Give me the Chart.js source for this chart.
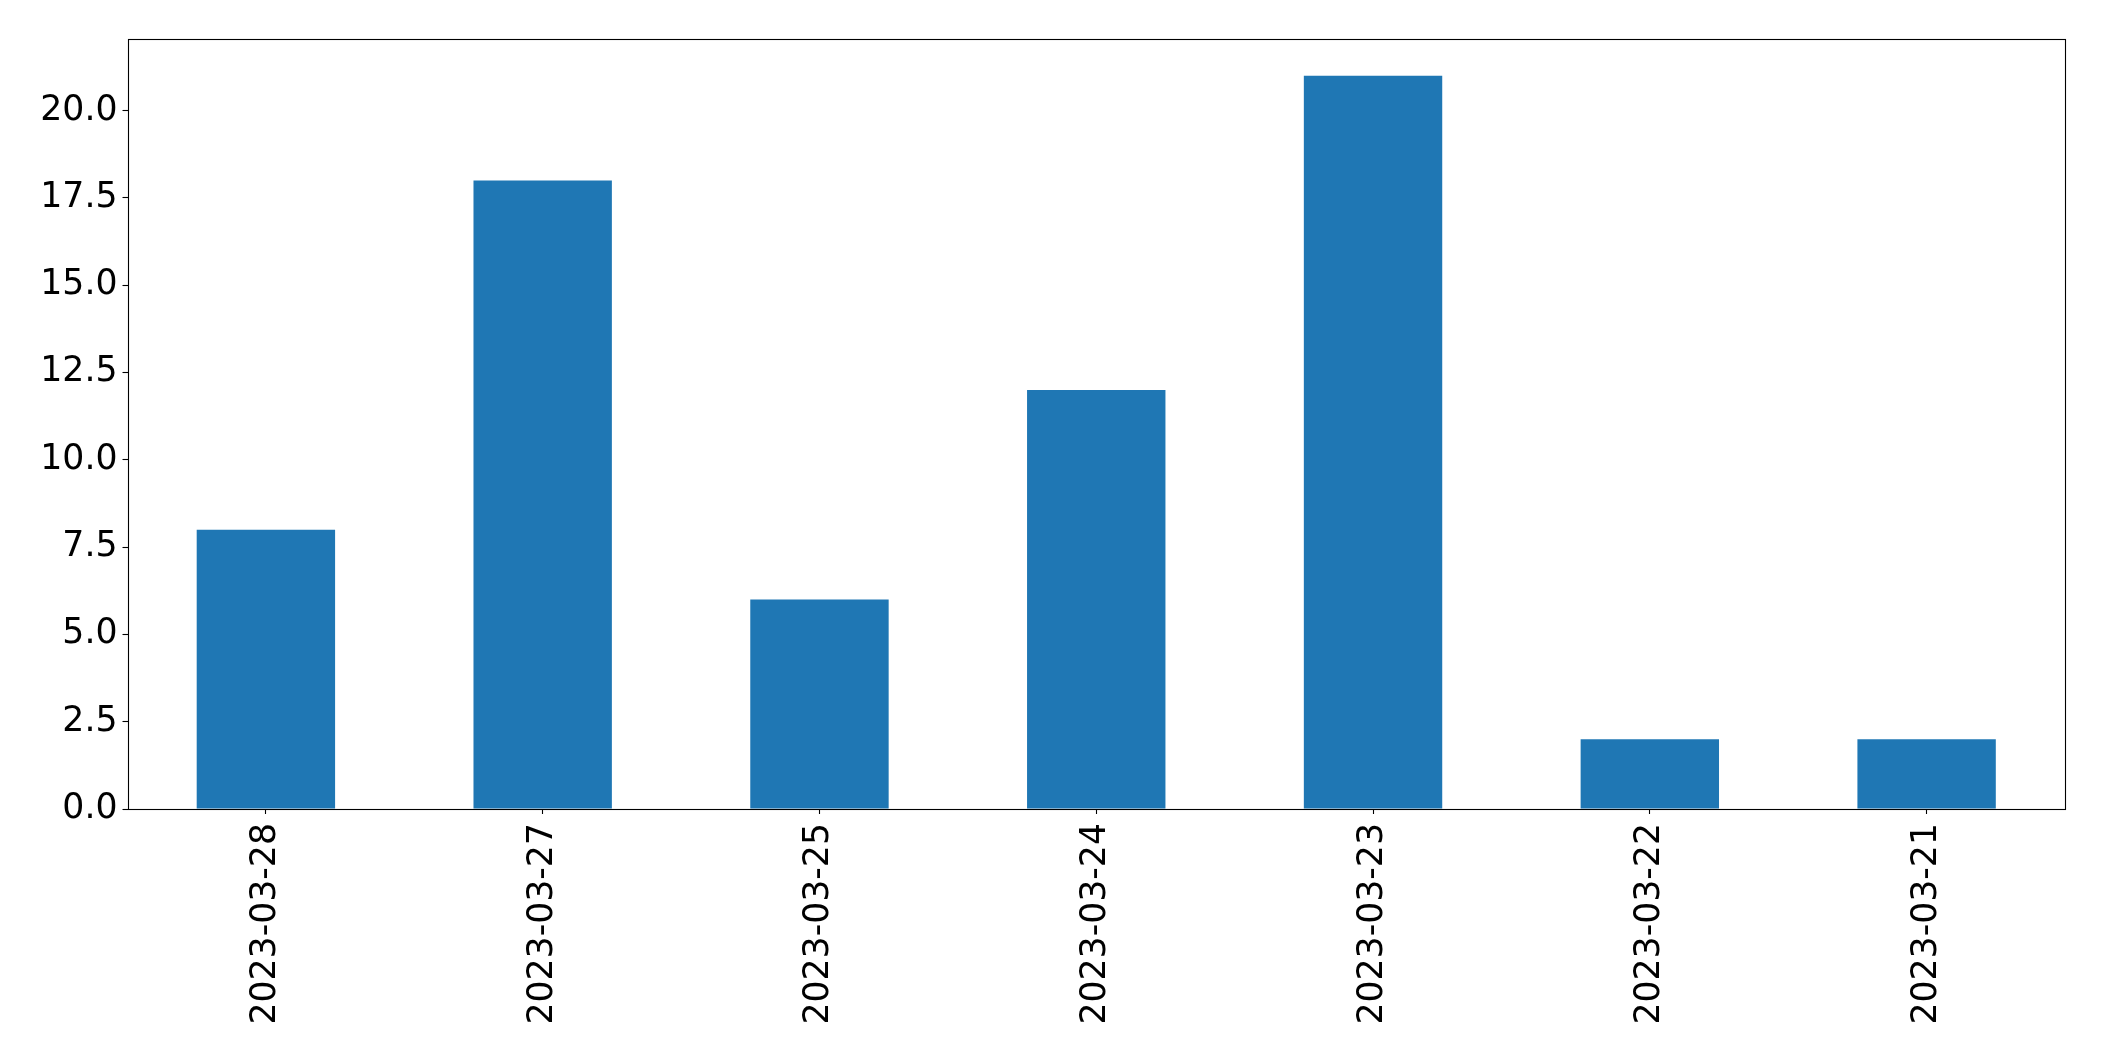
<!DOCTYPE html>
<html>
<head>
<meta charset="utf-8">
<script src="https://cdn.jsdelivr.net/npm/chart.js@4/dist/chart.umd.min.js"></script>
<style>
  html, body { margin: 0; padding: 0; background: #ffffff; }
  #wrap { width: 2104px; height: 1061px; position: relative; }
</style>
</head>
<body>
<div id="wrap"><canvas id="c" width="2104" height="1061"></canvas></div>
<script>
const categories = ["2023-03-28", "2023-03-27", "2023-03-25", "2023-03-24", "2023-03-23", "2023-03-22", "2023-03-21"];
const counts = [8, 18, 6, 12, 21, 2, 2];
const yTicks = [0, 2.5, 5, 7.5, 10, 12.5, 15, 17.5, 20];
const yMin = 0;
const yMax = 22.05;

const frame = {
  id: 'frame',
  afterDraw(chart) {
    const a = chart.chartArea;
    const ctx = chart.ctx;
    ctx.save();
    ctx.strokeStyle = '#000000';
    ctx.lineWidth = 1.1;
    ctx.strokeRect(Math.round(a.left) + 0.5, Math.round(a.top) + 0.5,
                   Math.round(a.right - a.left) - 1, Math.round(a.bottom - a.top));
    ctx.restore();
  }
};

const font = { family: '"DejaVu Sans", sans-serif', size: 34.7 };

new Chart(document.getElementById('c'), {
  type: 'bar',
  data: {
    labels: categories,
    datasets: [{
      data: counts,
      backgroundColor: '#1f77b4',
      borderWidth: 0,
      categoryPercentage: 1.0,
      barPercentage: 0.5
    }]
  },
  options: {
    responsive: false,
    animation: false,
    devicePixelRatio: 1,
    layout: { padding: { left: 0, top: 39, right: 39, bottom: 0 } },
    plugins: { legend: { display: false }, tooltip: { enabled: false } },
    scales: {
      x: {
        grid: { display: true, offset: false, drawOnChartArea: false, drawTicks: true, tickLength: 5, tickColor: '#000', tickWidth: 1.1 },
        border: { display: false },
        ticks: { color: '#000', font: font, maxRotation: 90, minRotation: 90, padding: 9, autoSkip: false },
        afterFit(scale) { scale.height = 252; }
      },
      y: {
        min: yMin,
        max: yMax,
        grid: { display: true, drawOnChartArea: false, drawTicks: true, tickLength: 5, tickColor: '#000', tickWidth: 1.1 },
        border: { display: false },
        ticks: { color: '#000', font: font, padding: 5, callback: (v) => Number(v).toFixed(1) },
        afterBuildTicks(scale) { scale.ticks = yTicks.map(v => ({ value: v })); },
        afterFit(scale) { scale.width = 127.5; }
      }
    }
  },
  plugins: [frame]
});
</script>
</body>
</html>
